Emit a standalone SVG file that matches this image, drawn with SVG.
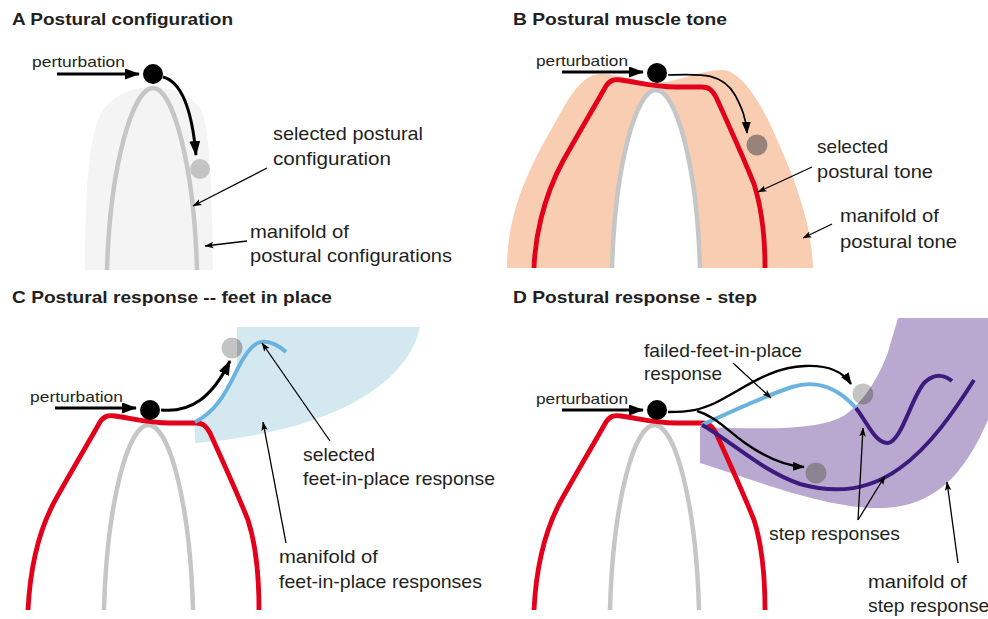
<svg xmlns="http://www.w3.org/2000/svg" xmlns:xlink="http://www.w3.org/1999/xlink" width="988" height="619" viewBox="0 0 988 619">
<style>
.title{font-family:"Liberation Sans",Arial,sans-serif;font-weight:bold;font-size:16.5px;fill:#231f20}
.lbl{font-family:"Liberation Sans",Arial,sans-serif;font-size:18.5px;fill:#231f20}
.pert{font-family:"Liberation Sans",Arial,sans-serif;font-size:15px;fill:#231f20}
.arch{fill:none;stroke:#c6c6c6;stroke-width:4.5}
.red{fill:none;stroke:#e2001a;stroke-width:4.8;stroke-linejoin:round}
.blue{fill:none;stroke:#6cb2df;stroke-width:4}
.dpur{fill:none;stroke:#3c1a7e;stroke-width:4}
.thick{fill:none;stroke:#000;stroke-width:3}
.med{fill:none;stroke:#000;stroke-width:2.4}
.thin{fill:none;stroke:#000;stroke-width:1.7}
.lead{fill:none;stroke:#000;stroke-width:1.3}
.ball{fill:#000}
</style>
<defs>
<marker id="mBig" markerUnits="userSpaceOnUse" markerWidth="15" markerHeight="11" refX="14" refY="5.5" orient="auto"><path d="M0,0 L15,5.5 L0,11 Z" fill="#000"/></marker>
<marker id="mMed" markerUnits="userSpaceOnUse" markerWidth="12" markerHeight="9" refX="11" refY="4.5" orient="auto"><path d="M0,0 L12,4.5 L0,9 Z" fill="#000"/></marker>
<marker id="mSm" markerUnits="userSpaceOnUse" markerWidth="9" markerHeight="7" refX="8.5" refY="3.5" orient="auto"><path d="M0,0.3 L9,3.5 L0,6.7 L2,3.5 Z" fill="#000"/></marker>
<path id="redC" d="M28,610 C30,570 38,530 57,497 C72,470 90,440 100,422 C104,416 108,415 115,416 C135,419 150,423 170,423 L196,423 C203,423 206,426 210,433 C220,455 238,495 248,520 C256,545 259,575 259,610"/>
<path id="archC" d="M104,610 C107,502 128,425 148.5,425 C169,425 190,502 193,610"/>
<path id="blueReg" d="M237,327 L420,327 C408,385 330,432 195,443 L195,422 C215,412 225,395 237,370 Z"/>
<path id="purReg" d="M700,427 C760,429 820,431 845,415 C862,403 878,380 888,352 L898,318 L988,318 L988,420 C970,460 945,505 885,508 C830,510 760,482 700,463 Z"/>
<clipPath id="clipBlue"><use xlink:href="#blueReg"/></clipPath>
<clipPath id="clipPur"><use xlink:href="#purReg"/></clipPath>
</defs>
<rect width="988" height="619" fill="#fff"/>

<g id="panelA">
<text class="title" x="12" y="25" textLength="221" lengthAdjust="spacingAndGlyphs">A Postural configuration</text>
<path id="A-manifold" d="M85,270 C85,200 88,140 100,115 C112,95 130,88 150,87 C175,87 195,95 203,115 C210,135 212,200 213,270 Z" fill="#f4f4f4"/>
<path id="A-arch" class="arch" d="M107,270 C110,165 133,88 153,88 C173,88 194,165 197,270"/>
<circle id="A-ball" class="ball" cx="153" cy="74" r="10"/>
<circle id="A-selected" cx="200" cy="169" r="10" fill="#c4c4c4"/>
<text class="pert" x="32" y="67" textLength="93" lengthAdjust="spacingAndGlyphs">perturbation</text>
<text class="lbl" x="273" y="140" textLength="150" lengthAdjust="spacingAndGlyphs">selected postural</text>
<text class="lbl" x="273" y="165" textLength="118" lengthAdjust="spacingAndGlyphs">configuration</text>
<text class="lbl" x="250" y="238" textLength="99" lengthAdjust="spacingAndGlyphs">manifold of</text>
<text class="lbl" x="250" y="262" textLength="202" lengthAdjust="spacingAndGlyphs">postural configurations</text>
</g>

<g id="panelB">
<text class="title" x="513" y="25" textLength="214" lengthAdjust="spacingAndGlyphs">B Postural muscle tone</text>
<path id="B-manifold" d="M507,268 C507,200 540,150 565,105 C580,80 590,73 605,74 C625,76 640,82 655,83 C675,83 700,70 722,70 C740,70 760,100 775,135 C800,190 812,230 813,268 Z" fill="#f9cdb2"/>
<path id="B-arch" class="arch" style="fill:#fff" d="M612,268 C615,165 636,90 656,90 C676,90 697,165 700,268"/>
<path id="B-tone" class="red" d="M534,268 C535,240 542,200 563,161 C578,134 596,104 606,86 C610,80 614,79 621,80 C641,83 656,87 676,87 L702,87 C709,87 712,90 716,97 C726,119 744,159 754,184 C762,209 765,235 765,268"/>
<circle id="B-ball" class="ball" cx="657" cy="73" r="10"/>
<circle id="B-selected" cx="757" cy="145" r="10.5" fill="#98837a"/>
<text class="pert" x="536" y="66" textLength="92" lengthAdjust="spacingAndGlyphs">perturbation</text>
<text class="lbl" x="817" y="153" textLength="71" lengthAdjust="spacingAndGlyphs">selected</text>
<text class="lbl" x="817" y="178" textLength="116" lengthAdjust="spacingAndGlyphs">postural tone</text>
<text class="lbl" x="840" y="222" textLength="99" lengthAdjust="spacingAndGlyphs">manifold of</text>
<text class="lbl" x="840" y="248" textLength="117" lengthAdjust="spacingAndGlyphs">postural tone</text>
</g>

<g id="panelC">
<text class="title" x="12" y="303" textLength="320" lengthAdjust="spacingAndGlyphs">C Postural response -- feet in place</text>
<use id="C-manifold" xlink:href="#blueReg" fill="#d3e9ef"/>
<use id="C-arch" xlink:href="#archC" class="arch"/>
<use id="C-tone" xlink:href="#redC" class="red"/>
<path id="C-response" class="blue" d="M195,422 C215,412 225,395 237,370 C247,350 255,342 262,342 C270,341 278,345 286,352"/>
<circle id="C-ball" class="ball" cx="150" cy="410" r="10"/>
<g id="C-selected">
<circle cx="232" cy="348" r="10.5" fill="#c4c4c4"/>
<circle cx="232" cy="348" r="10.5" fill="#a0a8ab" clip-path="url(#clipBlue)"/>
</g>
<text class="pert" x="30" y="402" textLength="93" lengthAdjust="spacingAndGlyphs">perturbation</text>
<text class="lbl" x="303" y="461" textLength="72" lengthAdjust="spacingAndGlyphs">selected</text>
<text class="lbl" x="303" y="485" textLength="192" lengthAdjust="spacingAndGlyphs">feet-in-place response</text>
<text class="lbl" x="279" y="563" textLength="99" lengthAdjust="spacingAndGlyphs">manifold of</text>
<text class="lbl" x="279" y="588" textLength="203" lengthAdjust="spacingAndGlyphs">feet-in-place responses</text>
</g>

<g id="panelD">
<text class="title" x="513" y="303" textLength="244" lengthAdjust="spacingAndGlyphs">D Postural response - step</text>
<use id="D-manifold" xlink:href="#purReg" fill="#b9a9d1"/>
<use id="D-arch" xlink:href="#archC" class="arch" transform="translate(506,0)"/>
<use id="D-tone" xlink:href="#redC" class="red" transform="translate(506,0)"/>
<path id="D-failed" class="blue" d="M702,425 C730,412 762,397 792,387 C818,379 838,388 856,408"/>
<path id="D-step1" class="dpur" d="M856,408 C868,424 876,444 888,443 C902,441 912,395 925,382 C935,373 945,375 952,381"/>
<path id="D-step2" class="dpur" d="M702,425 C730,440 760,470 800,484 C835,494 870,490 900,468 C930,447 955,410 974,380"/>
<circle id="D-ball" class="ball" cx="657" cy="410" r="10"/>
<g id="D-failedball">
<circle cx="863" cy="394" r="10.5" fill="#c4c4c4"/>
<circle cx="863" cy="394" r="10.5" fill="#8a8494" clip-path="url(#clipPur)"/>
</g>
<circle id="D-stepball" cx="816" cy="473" r="10.5" fill="#8a8490"/>
<text class="pert" x="536" y="404" textLength="92" lengthAdjust="spacingAndGlyphs">perturbation</text>
<text class="lbl" x="644" y="357" textLength="158" lengthAdjust="spacingAndGlyphs">failed-feet-in-place</text>
<text class="lbl" x="644" y="380" textLength="78" lengthAdjust="spacingAndGlyphs">response</text>
<text class="lbl" x="769" y="540" textLength="131" lengthAdjust="spacingAndGlyphs">step responses</text>
<text class="lbl" x="868" y="588" textLength="99" lengthAdjust="spacingAndGlyphs">manifold of</text>
<text class="lbl" x="868" y="612" textLength="131" lengthAdjust="spacingAndGlyphs">step responses</text>
</g>

<g id="connectors">
<line class="thick" x1="57" y1="74" x2="139" y2="74" marker-end="url(#mBig)"/>
<path class="thick" d="M163,77 C182,82 192,110 196,155" marker-end="url(#mBig)"/>
<line class="lead" x1="267" y1="168" x2="193" y2="206" marker-end="url(#mSm)"/>
<line class="lead" x1="247" y1="241" x2="205" y2="246" marker-end="url(#mSm)"/>

<line class="thick" x1="562" y1="72" x2="643" y2="72" marker-end="url(#mBig)"/>
<path class="thin" d="M668,75 C700,74 722,72 735,95 C742,108 746,118 747,133" marker-end="url(#mMed)"/>
<line class="lead" x1="812" y1="167" x2="758" y2="192" marker-end="url(#mSm)"/>
<line class="lead" x1="832" y1="224" x2="803" y2="238" marker-end="url(#mSm)"/>

<line class="thick" x1="55" y1="408" x2="136" y2="408" marker-end="url(#mBig)"/>
<path class="thick" d="M161,410 C190,413 212,398 230,361" marker-end="url(#mBig)"/>
<line class="lead" x1="330" y1="441" x2="262" y2="343" marker-end="url(#mSm)"/>
<line class="lead" x1="286" y1="543" x2="263" y2="422" marker-end="url(#mSm)"/>

<line class="thick" x1="562" y1="410" x2="643" y2="410" marker-end="url(#mBig)"/>
<path class="med" d="M668,412 C690,412 700,410 715,403 C745,388 770,367 805,366 C830,365 843,372 851,384" marker-end="url(#mMed)"/>
<path class="med" d="M697,411 C715,416 727,430 745,443 C765,457 785,466 804,467" marker-end="url(#mMed)"/>
<line class="lead" x1="733" y1="363" x2="771" y2="398" marker-end="url(#mSm)"/>
<line class="lead" x1="858" y1="520" x2="863" y2="428" marker-end="url(#mSm)"/>
<line class="lead" x1="858" y1="520" x2="885" y2="476" marker-end="url(#mSm)"/>
<line class="lead" x1="958" y1="563" x2="947" y2="482" marker-end="url(#mSm)"/>
</g>
</svg>
